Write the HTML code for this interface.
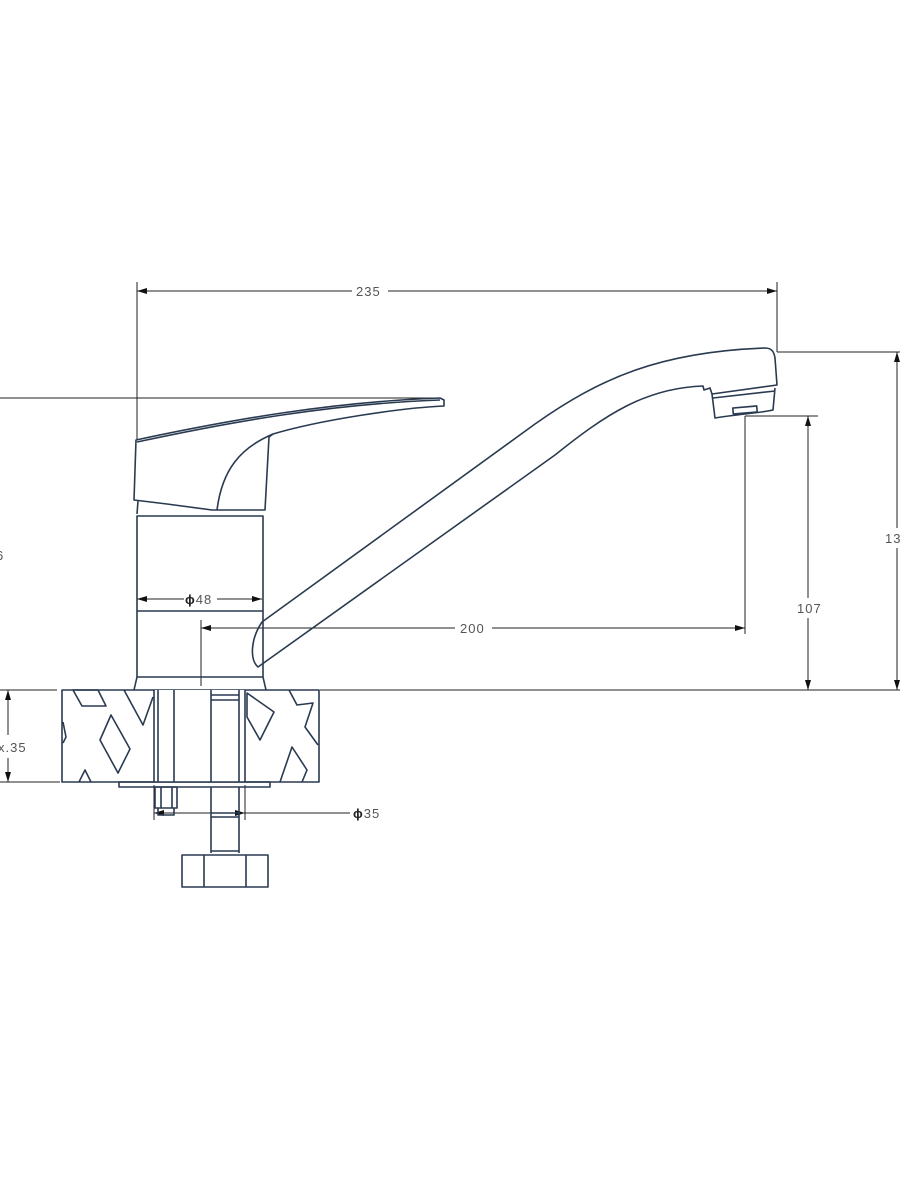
<!DOCTYPE html>
<html><head><meta charset="utf-8"><style>
html,body{margin:0;padding:0;background:#fff;}
svg{display:block;}
text{font-family:"Liberation Sans",sans-serif;font-size:13px;fill:#555;letter-spacing:1px;}
</style></head><body>
<svg width="900" height="1200" viewBox="0 0 900 1200" xmlns="http://www.w3.org/2000/svg">
<defs>
<marker id="a" viewBox="0 0 10 6" refX="10" refY="3" markerWidth="10" markerHeight="6" orient="auto-start-reverse" markerUnits="userSpaceOnUse"><path d="M0,0L10,3L0,6z" fill="#111"/></marker>
</defs>
<g stroke="#222" stroke-width="1" fill="none">
<line x1="137" y1="282" x2="137" y2="440"/>
<line x1="777" y1="282" x2="777" y2="352"/>
<line x1="137" y1="291" x2="352" y2="291" marker-start="url(#a)"/>
<line x1="388" y1="291" x2="777" y2="291" marker-end="url(#a)"/>
<line x1="0" y1="398" x2="440" y2="398"/>
<line x1="777" y1="352" x2="900" y2="352"/>
<line x1="897" y1="352" x2="897" y2="528" marker-start="url(#a)"/>
<line x1="897" y1="548" x2="897" y2="690" marker-end="url(#a)"/>
<line x1="320" y1="690" x2="900" y2="690"/>
<line x1="745" y1="416" x2="818" y2="416"/>
<line x1="808" y1="416" x2="808" y2="598" marker-start="url(#a)"/>
<line x1="808" y1="618" x2="808" y2="690" marker-end="url(#a)"/>
<line x1="745" y1="416" x2="745" y2="634"/>
<line x1="201" y1="620" x2="201" y2="686"/>
<line x1="201" y1="628" x2="455" y2="628" marker-start="url(#a)"/>
<line x1="492" y1="628" x2="745" y2="628" marker-end="url(#a)"/>
<line x1="137" y1="599" x2="184" y2="599" marker-start="url(#a)"/>
<line x1="217" y1="599" x2="262" y2="599" marker-end="url(#a)"/>
<line x1="0" y1="690" x2="57" y2="690"/>
<line x1="0" y1="782" x2="60" y2="782"/>
<line x1="8" y1="690" x2="8" y2="735" marker-start="url(#a)"/>
<line x1="8" y1="758" x2="8" y2="782" marker-end="url(#a)"/>
<line x1="154" y1="785" x2="154" y2="820"/>
<line x1="245" y1="785" x2="245" y2="820"/>
<line x1="154" y1="813" x2="245" y2="813" marker-start="url(#a)" marker-end="url(#a)"/>
<line x1="245" y1="813" x2="350" y2="813"/>
</g>
<g stroke="#2a3a50" stroke-width="1.6" fill="none" stroke-linejoin="round">
<path d="M136,440 C230,420 330,402 440,398 L444,400 L444,406 C400,408 320,420 273,434 L269,437 C267,470 266,490 265,510 L212,510 L167,504 L134,500 Z"/>
<path d="M137,442 C230,422 330,404 440,400"/>
<path d="M217,510 C222,470 240,448 273,434"/>
<path d="M138,501 L137,514"/>
<rect x="137" y="516" width="126" height="161"/>
<line x1="137" y1="611" x2="263" y2="611"/>
<path d="M137,677 L134,690 M263,677 L266,690"/>
<path d="M262,622 L535,424 C600,378 660,352 765,348 C772,348 774,352 775,358 L777,385 C740,390 720,393 712,394 L710,388 L704,390 L703,386 C645,388 605,415 555,455 L258,667 C250,660 250,640 262,622 Z"/>
<path d="M712,394 L715,418 C740,414 760,413 773,410 L775,388"/>
<path d="M713,398 L775,391"/>
<rect x="733" y="407" width="24" height="6" transform="rotate(-5 745 410)"/>
<rect x="62" y="690" width="257" height="92"/>
<polygon points="73,690 82,706 106,706 98,690"/>
<polyline points="124,690 143,725 153,697"/>
<polygon points="111,715 130,749 118,773 100,740"/>
<polyline points="63,722 66,737 63,743"/>
<polyline points="79,782 85,770 91,782"/>
<polygon points="247,693 274,712 260,740 247,717"/>
<polyline points="289,690 297,705 313,703 305,727 318,745"/>
<polyline points="280,782 292,747 307,770 302,782"/>
<rect x="155" y="690" width="90" height="92" fill="#fff" stroke="none"/>
<line x1="154" y1="690" x2="154" y2="782"/>
<line x1="158" y1="690" x2="158" y2="782"/>
<line x1="174" y1="690" x2="174" y2="782"/>
<line x1="211" y1="690" x2="211" y2="782"/>
<line x1="239" y1="690" x2="239" y2="782"/>
<line x1="245" y1="690" x2="245" y2="782"/>
<line x1="211" y1="695" x2="239" y2="695"/>
<line x1="211" y1="700" x2="239" y2="700"/>
<rect x="119" y="782" width="151" height="5"/>
<rect x="155" y="787" width="22" height="21"/>
<line x1="161" y1="787" x2="161" y2="808"/>
<line x1="172" y1="787" x2="172" y2="808"/>
<path d="M158,808 L158,815 L174,815 L174,808"/>
<line x1="211" y1="787" x2="211" y2="853"/>
<line x1="239" y1="787" x2="239" y2="853"/>
<line x1="211" y1="813" x2="239" y2="813"/>
<line x1="211" y1="817" x2="239" y2="817"/>
<line x1="211" y1="851" x2="239" y2="851"/>
<rect x="182" y="855" width="86" height="32"/>
<line x1="204" y1="855" x2="204" y2="887"/>
<line x1="246" y1="855" x2="246" y2="887"/>
</g>
<text x="356" y="296">235</text>
<text x="185" y="604"><tspan style="font-weight:bold;fill:#222">ϕ</tspan>48</text>
<text x="460" y="633">200</text>
<text x="797" y="613">107</text>
<text x="885" y="543">13</text>
<text x="-4" y="560">6</text>
<text x="-2" y="752">x.35</text>
<text x="353" y="818"><tspan style="font-weight:bold;fill:#222">ϕ</tspan>35</text>
</svg>
</body></html>
